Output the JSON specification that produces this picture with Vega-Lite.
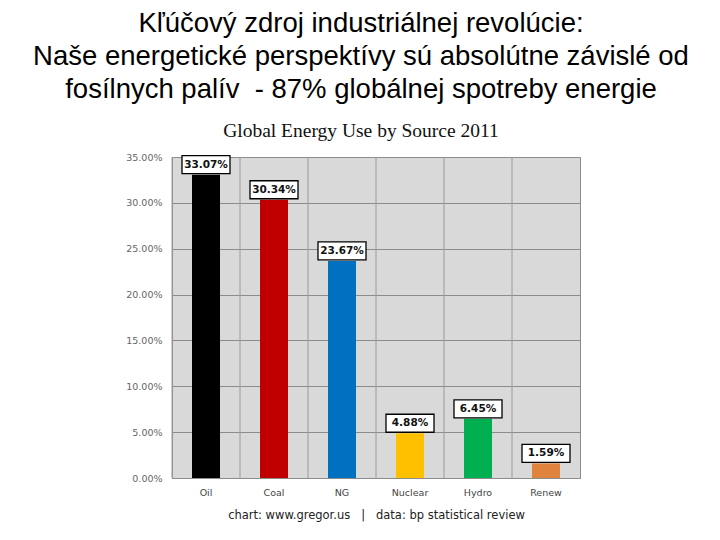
{
  "$schema": "https://vega.github.io/schema/vega-lite/v6.json",
  "autosize": {"type": "none"},
  "width": 408,
  "height": 321,
  "padding": {"left": 172, "top": 157, "right": 140, "bottom": 62},
  "background": "white",
  "title": {
    "text": ["Kľúčový zdroj industriálnej revolúcie:", "Naše energetické perspektívy sú absolútne závislé od", "fosílnych palív\u00a0 - 87% globálnej spotreby energie"],
    "subtitle": "Global Energy Use by Source 2011",
    "anchor": "middle",
    "frame": "group",
    "dx": -15,
    "offset": 12,
    "font": "Liberation Sans",
    "fontSize": 27.5,
    "fontWeight": "normal",
    "lineHeight": 33,
    "color": "#000000",
    "subtitleFont": "Liberation Serif",
    "subtitleFontSize": 19.5,
    "subtitleColor": "#111111",
    "subtitlePadding": 18
  },
  "config": {
    "view": {"fill": "#d9d9d9", "stroke": "#8c8c8c", "strokeWidth": 1}
  },
  "data": {
    "values": [
      {"source": "Oil", "share": 0.3307},
      {"source": "Coal", "share": 0.3034},
      {"source": "NG", "share": 0.2367},
      {"source": "Nuclear", "share": 0.0488},
      {"source": "Hydro", "share": 0.0645},
      {"source": "Renew", "share": 0.0159}
    ]
  },
  "encoding": {
    "x": {
      "field": "source",
      "type": "nominal",
      "sort": null,
      "scale": {"paddingInner": 0, "paddingOuter": 0},
      "axis": {
        "labelAngle": 0,
        "labelFont": "DejaVu Sans",
        "labelFontSize": 9.5,
        "labelColor": "#444444",
        "labelPadding": 9,
        "ticks": false,
        "domain": false,
        "grid": false,
        "title": "chart: www.gregor.us\u00a0\u00a0\u00a0|\u00a0\u00a0\u00a0data: bp statistical review",
        "titleFont": "DejaVu Sans",
        "titleFontSize": 11.5,
        "titleFontWeight": "normal",
        "titleColor": "#222222",
        "titlePadding": 13
      }
    },
    "y": {
      "field": "share",
      "type": "quantitative",
      "scale": {"domain": [0, 0.35], "nice": false},
      "axis": {
        "format": ".2%",
        "values": [0, 0.05, 0.1, 0.15, 0.2, 0.25, 0.3, 0.35],
        "labelFont": "DejaVu Sans",
        "labelFontSize": 9.5,
        "labelColor": "#666666",
        "labelPadding": 10,
        "ticks": false,
        "domain": false,
        "grid": true,
        "gridColor": "#8c8c8c",
        "gridWidth": 1,
        "title": null
      }
    }
  },
  "layer": [
    {
      "mark": {"type": "rule", "color": "#9a9a9a", "strokeWidth": 1},
      "encoding": {
        "x": {"field": "source", "type": "nominal", "sort": null, "bandPosition": 0},
        "y": null
      }
    },
    {
      "mark": {"type": "bar", "width": 28},
      "encoding": {
        "color": {
          "field": "source",
          "type": "nominal",
          "sort": null,
          "scale": {
            "domain": ["Oil", "Coal", "NG", "Nuclear", "Hydro", "Renew"],
            "range": ["#000000", "#c00000", "#0070c0", "#ffc000", "#00b050", "#e0833e"]
          },
          "legend": null
        }
      }
    },
    {
      "mark": {
        "type": "point",
        "shape": "M-1,-0.375L1,-0.375L1,0.375L-1,0.375Z",
        "size": 2304,
        "filled": false,
        "fill": "white",
        "fillOpacity": 1,
        "stroke": "black",
        "strokeWidth": 1.3,
        "opacity": 1,
        "yOffset": -10
      }
    },
    {
      "mark": {
        "type": "text",
        "font": "DejaVu Sans",
        "fontSize": 10.5,
        "fontWeight": "bold",
        "color": "#111111",
        "baseline": "middle",
        "align": "center",
        "yOffset": -10
      },
      "encoding": {
        "text": {"field": "share", "type": "quantitative", "format": ".2%"}
      }
    }
  ]
}
